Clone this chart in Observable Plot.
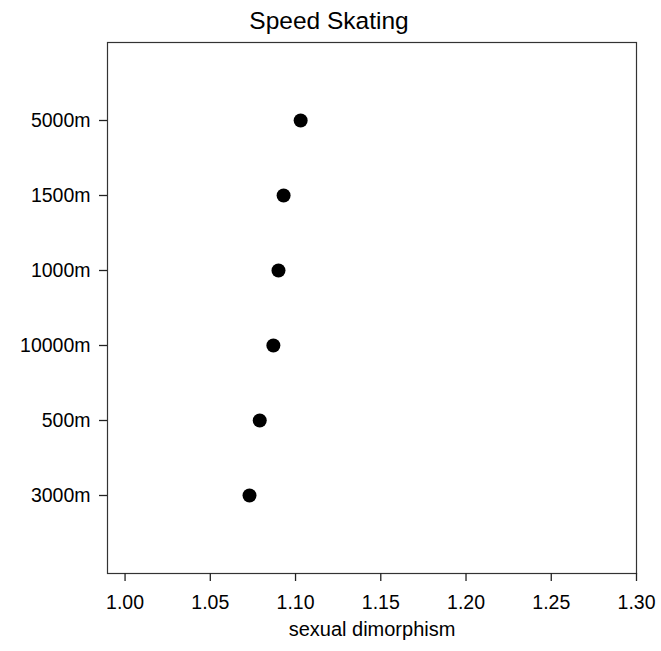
<!DOCTYPE html>
<html>
<head>
<meta charset="utf-8">
<script src="https://cdn.jsdelivr.net/npm/d3@7"></script>
<script src="https://cdn.jsdelivr.net/npm/@observablehq/plot@0.6"></script>
<style>
html, body { margin: 0; padding: 0; background: #fff; }
</style>
</head>
<body>
<div id="chart"></div>
<script>
const events = ["5000m", "1500m", "1000m", "10000m", "500m", "3000m"];
const dimorphism = [1.103, 1.093, 1.090, 1.087, 1.079, 1.073];
const xTicks = [1.00, 1.05, 1.10, 1.15, 1.20, 1.25, 1.30];
const title = "Speed Skating";
const xLabel = "sexual dimorphism";

const data = events.map((e, i) => ({event: e, value: dimorphism[i]}));
const font = "Liberation Sans, Arial, Helvetica, sans-serif";

const chart = Plot.plot({
  width: 661,
  height: 651,
  marginLeft: 107,
  marginRight: 25,
  marginTop: 42,
  marginBottom: 78,
  style: {fontFamily: font, fontSize: "19px", color: "#000", background: "#fff"},
  x: {domain: [0.9897, 1.30]},
  y: {type: "point", domain: events, padding: 1},
  marks: [
    Plot.frame({stroke: "#333", strokeWidth: 1.2}),
    Plot.axisX({ticks: xTicks, tickFormat: d3.format(".2f"), tickSize: 8, tickPadding: 14, label: null, fontSize: 19.5, stroke: "#222", strokeWidth: 1.3}),
    Plot.axisY({tickSize: 8, tickPadding: 9, label: null, fontSize: 19.5, letterSpacing: 1.2, stroke: "#222", strokeWidth: 1.3}),
    Plot.dot(data, {x: "value", y: "event", r: 7, fill: "#000", stroke: null}),
    Plot.text([title], {frameAnchor: "top", lineAnchor: "middle", dx: -43, dy: -21, text: d => d, fontSize: 24.5, fill: "#000"}),
    Plot.text([xLabel], {frameAnchor: "bottom", lineAnchor: "middle", dy: 56, text: d => d, fontSize: 20, fill: "#000"})
  ]
});
document.getElementById("chart").appendChild(chart);
</script>
</body>
</html>
